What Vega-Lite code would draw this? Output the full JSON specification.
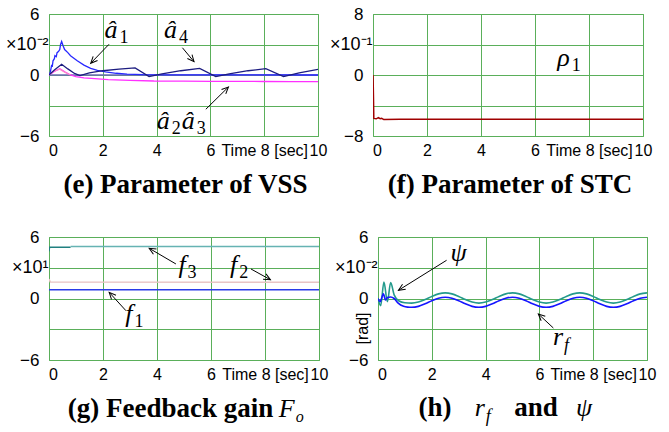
{
  "$schema": "https://vega.github.io/schema/vega-lite/v6.json",
  "background": "white",
  "padding": {"left": 4, "top": 4, "right": 5, "bottom": 5},
  "config": {
    "view": {"stroke": "#5aaf5a", "strokeWidth": 1},
    "axis": {"grid": true, "gridColor": "#5aaf5a", "gridWidth": 1, "gridOpacity": 1, "domain": false, "ticks": false,
      "labelFont": "'Liberation Sans Narrow', 'Liberation Sans', sans-serif", "labelColor": "black", "labelFontSize": 17,
      "titleFont": "'Liberation Sans Narrow', 'Liberation Sans', sans-serif", "titleFontWeight": "normal", "titleColor": "black", "titleFontSize": 16},
    "axisX": {"labelOverlap": false, "labelFontSize": 16},
    "title": {"font": "Liberation Serif", "fontSize": 27, "fontWeight": "bold", "color": "black", "orient": "bottom", "offset": 14}
  },
  "datasets": {
    "e_lines": [
      {"s": "z", "x": 0, "y": 0}, {"s": "z", "x": 10, "y": 0},
      {"s": "a1", "x": 0, "y": 0}, {"s": "a1", "x": 0.05, "y": 0.3}, {"s": "a1", "x": 0.1, "y": 1.0}, {"s": "a1", "x": 0.12, "y": 0.8}, {"s": "a1", "x": 0.15, "y": 1.4}, {"s": "a1", "x": 0.2, "y": 1.6}, {"s": "a1", "x": 0.22, "y": 1.9}, {"s": "a1", "x": 0.27, "y": 1.8}, {"s": "a1", "x": 0.3, "y": 2.2}, {"s": "a1", "x": 0.35, "y": 2.3}, {"s": "a1", "x": 0.4, "y": 2.5}, {"s": "a1", "x": 0.43, "y": 3.0}, {"s": "a1", "x": 0.47, "y": 3.3}, {"s": "a1", "x": 0.52, "y": 2.9}, {"s": "a1", "x": 0.58, "y": 2.5}, {"s": "a1", "x": 0.7, "y": 2.2}, {"s": "a1", "x": 0.8, "y": 1.9}, {"s": "a1", "x": 1.05, "y": 1.4}, {"s": "a1", "x": 1.3, "y": 0.97}, {"s": "a1", "x": 1.55, "y": 0.66}, {"s": "a1", "x": 1.8, "y": 0.46}, {"s": "a1", "x": 2.1, "y": 0.3}, {"s": "a1", "x": 2.5, "y": 0.17}, {"s": "a1", "x": 2.9, "y": 0.08}, {"s": "a1", "x": 3.5, "y": 0.03}, {"s": "a1", "x": 4.5, "y": 0.01}, {"s": "a1", "x": 10, "y": 0},
      {"s": "a2", "x": 0, "y": 0}, {"s": "a2", "x": 0.2, "y": 0.35}, {"s": "a2", "x": 0.4, "y": 0.62}, {"s": "a2", "x": 0.6, "y": 0.3}, {"s": "a2", "x": 0.8, "y": 0.0}, {"s": "a2", "x": 1.0, "y": -0.15}, {"s": "a2", "x": 1.3, "y": -0.28}, {"s": "a2", "x": 1.7, "y": -0.36}, {"s": "a2", "x": 2.2, "y": -0.45}, {"s": "a2", "x": 3.0, "y": -0.52}, {"s": "a2", "x": 3.9, "y": -0.59}, {"s": "a2", "x": 5, "y": -0.6}, {"s": "a2", "x": 6, "y": -0.62}, {"s": "a2", "x": 7, "y": -0.62}, {"s": "a2", "x": 8, "y": -0.64}, {"s": "a2", "x": 9, "y": -0.66}, {"s": "a2", "x": 10, "y": -0.65},
      {"s": "a3", "x": 0, "y": 0}, {"s": "a3", "x": 0.2, "y": 0.4}, {"s": "a3", "x": 0.4, "y": 0.58}, {"s": "a3", "x": 0.6, "y": 0.25}, {"s": "a3", "x": 0.8, "y": 0.0},
      {"s": "a4", "x": 0, "y": 0}, {"s": "a4", "x": 0.2, "y": 0.5}, {"s": "a4", "x": 0.47, "y": 1.05}, {"s": "a4", "x": 0.7, "y": 0.6}, {"s": "a4", "x": 0.95, "y": 0.15}, {"s": "a4", "x": 1.15, "y": -0.05}, {"s": "a4", "x": 1.5, "y": 0.2}, {"s": "a4", "x": 2.0, "y": 0.42}, {"s": "a4", "x": 2.6, "y": 0.57}, {"s": "a4", "x": 3.2, "y": 0.7}, {"s": "a4", "x": 3.72, "y": -0.15}, {"s": "a4", "x": 4.2, "y": 0.12}, {"s": "a4", "x": 4.9, "y": 0.42}, {"s": "a4", "x": 5.6, "y": 0.65}, {"s": "a4", "x": 6.2, "y": -0.15}, {"s": "a4", "x": 6.7, "y": 0.12}, {"s": "a4", "x": 7.4, "y": 0.42}, {"s": "a4", "x": 8.06, "y": 0.62}, {"s": "a4", "x": 8.72, "y": -0.15}, {"s": "a4", "x": 9.3, "y": 0.2}, {"s": "a4", "x": 10, "y": 0.55}
    ],
    "e_arrows": [
      {"x": 1.55, "y": 1.15, "x2": 2.23, "y2": 3.02},
      {"x": 5.39, "y": 1.31, "x2": 4.96, "y2": 2.68},
      {"x": 6.67, "y": -1.18, "x2": 5.83, "y2": -3.37}
    ],
    "e_labels": [
      {"x": 2.55, "y": 3.67, "m": "â", "sub": "1", "subi": ""},
      {"x": 4.76, "y": 3.67, "m": "â", "sub": "4", "subi": ""},
      {"x": 4.49, "y": -5.34, "m": "â", "sub": "2", "subi": ""},
      {"x": 5.42, "y": -5.34, "m": "â", "sub": "3", "subi": ""}
    ],
    "f_lines": [
      {"s": "rho", "x": 0, "y": 0}, {"s": "rho", "x": 0.01, "y": -1.5}, {"s": "rho", "x": 0.02, "y": -3.5}, {"s": "rho", "x": 0.03, "y": -5.7}, {"s": "rho", "x": 0.12, "y": -5.75}, {"s": "rho", "x": 0.2, "y": -5.6}, {"s": "rho", "x": 0.27, "y": -5.72}, {"s": "rho", "x": 0.32, "y": -5.68}, {"s": "rho", "x": 0.4, "y": -5.85}, {"s": "rho", "x": 1, "y": -5.8}, {"s": "rho", "x": 10, "y": -5.8}
    ],
    "f_labels": [
      {"x": 7.29, "y": 1.18, "m": "ρ", "sub": "1", "subi": ""}
    ],
    "g_lines": [
      {"s": "f3a", "x": 0, "y": 4.6}, {"s": "f3a", "x": 0.02, "y": 5.0}, {"s": "f3a", "x": 0.8, "y": 5.0},
      {"s": "f3", "x": 0.8, "y": 5.08}, {"s": "f3", "x": 10, "y": 5.08},
      {"s": "f2", "x": 0, "y": 1.9}, {"s": "f2", "x": 0.05, "y": 1.6}, {"s": "f2", "x": 10, "y": 1.58},
      {"s": "f1", "x": 0, "y": 0.86}, {"s": "f1", "x": 10, "y": 0.86}
    ],
    "g_arrows": [
      {"x": 3.71, "y": 4.9, "x2": 4.7, "y2": 3.37},
      {"x": 8.2, "y": 1.83, "x2": 7.48, "y2": 2.88},
      {"x": 2.23, "y": 0.6, "x2": 2.85, "y2": -1.19}
    ],
    "g_labels": [
      {"x": 5.06, "y": 2.46, "m": "f", "sub": "3", "subi": ""},
      {"x": 6.97, "y": 2.46, "m": "f", "sub": "2", "subi": ""},
      {"x": 3.09, "y": -2.32, "m": "f", "sub": "1", "subi": ""},
      {"x": 9.1, "y": -11.59, "m": "F", "sub": "", "subi": "o"}
    ],
    "g_bold": [
      {"x": 4.5, "y": -11.59, "m": "(g) Feedback gain"}
    ],
    "h_lines": [
      {"s": "psi", "x": 0, "y": 0}, {"s": "psi", "x": 0.1, "y": -0.7}, {"s": "psi", "x": 0.22, "y": 1.6}, {"s": "psi", "x": 0.35, "y": -0.3}, {"s": "psi", "x": 0.47, "y": 1.55}, {"s": "psi", "x": 0.6, "y": 0.35}, {"s": "psi", "x": 0.78, "y": -0.25}, {"s": "psi", "x": 1.0, "y": -0.42}, {"s": "psi", "x": 1.25, "y": -0.45}, {"s": "psi", "x": 1.5, "y": -0.35}, {"s": "psi", "x": 1.75, "y": -0.1}, {"s": "psi", "x": 2, "y": 0.2}, {"s": "psi", "x": 2.25, "y": 0.45}, {"s": "psi", "x": 2.5, "y": 0.55}, {"s": "psi", "x": 2.75, "y": 0.45}, {"s": "psi", "x": 3, "y": 0.2}, {"s": "psi", "x": 3.25, "y": -0.1}, {"s": "psi", "x": 3.5, "y": -0.35}, {"s": "psi", "x": 3.75, "y": -0.45}, {"s": "psi", "x": 4, "y": -0.35}, {"s": "psi", "x": 4.25, "y": -0.1}, {"s": "psi", "x": 4.5, "y": 0.2}, {"s": "psi", "x": 4.75, "y": 0.45}, {"s": "psi", "x": 5, "y": 0.55}, {"s": "psi", "x": 5.25, "y": 0.45}, {"s": "psi", "x": 5.5, "y": 0.2}, {"s": "psi", "x": 5.75, "y": -0.1}, {"s": "psi", "x": 6, "y": -0.35}, {"s": "psi", "x": 6.25, "y": -0.45}, {"s": "psi", "x": 6.5, "y": -0.35}, {"s": "psi", "x": 6.75, "y": -0.1}, {"s": "psi", "x": 7, "y": 0.2}, {"s": "psi", "x": 7.25, "y": 0.45}, {"s": "psi", "x": 7.5, "y": 0.55}, {"s": "psi", "x": 7.75, "y": 0.45}, {"s": "psi", "x": 8, "y": 0.2}, {"s": "psi", "x": 8.25, "y": -0.1}, {"s": "psi", "x": 8.5, "y": -0.35}, {"s": "psi", "x": 8.75, "y": -0.45}, {"s": "psi", "x": 9, "y": -0.35}, {"s": "psi", "x": 9.25, "y": -0.1}, {"s": "psi", "x": 9.5, "y": 0.2}, {"s": "psi", "x": 9.75, "y": 0.45}, {"s": "psi", "x": 10, "y": 0.55},
      {"s": "rf", "x": 0, "y": 0}, {"s": "rf", "x": 0.08, "y": -0.3}, {"s": "rf", "x": 0.15, "y": 0.15}, {"s": "rf", "x": 0.2, "y": 0.45}, {"s": "rf", "x": 0.28, "y": -0.15}, {"s": "rf", "x": 0.35, "y": 0.1}, {"s": "rf", "x": 0.47, "y": 0.15}, {"s": "rf", "x": 0.6, "y": 0.0}, {"s": "rf", "x": 0.75, "y": -0.45}, {"s": "rf", "x": 0.95, "y": -0.76}, {"s": "rf", "x": 1.1, "y": -0.84}, {"s": "rf", "x": 1.25, "y": -0.86}, {"s": "rf", "x": 1.5, "y": -0.77}, {"s": "rf", "x": 1.75, "y": -0.52}, {"s": "rf", "x": 2, "y": -0.22}, {"s": "rf", "x": 2.25, "y": 0.03}, {"s": "rf", "x": 2.5, "y": 0.12}, {"s": "rf", "x": 2.75, "y": 0.03}, {"s": "rf", "x": 3, "y": -0.22}, {"s": "rf", "x": 3.25, "y": -0.52}, {"s": "rf", "x": 3.5, "y": -0.77}, {"s": "rf", "x": 3.75, "y": -0.86}, {"s": "rf", "x": 4, "y": -0.77}, {"s": "rf", "x": 4.25, "y": -0.52}, {"s": "rf", "x": 4.5, "y": -0.22}, {"s": "rf", "x": 4.75, "y": 0.03}, {"s": "rf", "x": 5, "y": 0.12}, {"s": "rf", "x": 5.25, "y": 0.03}, {"s": "rf", "x": 5.5, "y": -0.22}, {"s": "rf", "x": 5.75, "y": -0.52}, {"s": "rf", "x": 6, "y": -0.77}, {"s": "rf", "x": 6.25, "y": -0.86}, {"s": "rf", "x": 6.5, "y": -0.77}, {"s": "rf", "x": 6.75, "y": -0.52}, {"s": "rf", "x": 7, "y": -0.22}, {"s": "rf", "x": 7.25, "y": 0.03}, {"s": "rf", "x": 7.5, "y": 0.12}, {"s": "rf", "x": 7.75, "y": 0.03}, {"s": "rf", "x": 8, "y": -0.22}, {"s": "rf", "x": 8.25, "y": -0.52}, {"s": "rf", "x": 8.5, "y": -0.77}, {"s": "rf", "x": 8.75, "y": -0.86}, {"s": "rf", "x": 9, "y": -0.77}, {"s": "rf", "x": 9.25, "y": -0.52}, {"s": "rf", "x": 9.5, "y": -0.22}, {"s": "rf", "x": 9.75, "y": 0.03}, {"s": "rf", "x": 10, "y": 0.12}
    ],
    "h_arrows": [
      {"x": 0.76, "y": 0.8, "x2": 2.55, "y2": 3.73},
      {"x": 5.96, "y": -1.51, "x2": 6.52, "y2": -2.88}
    ],
    "h_labels": [
      {"x": 3.3, "y": 3.63, "m": "ψ", "sub": "", "subi": ""},
      {"x": 6.88, "y": -4.5, "m": "r", "sub": "", "subi": "f"},
      {"x": 3.97, "y": -11.49, "m": "r", "sub": "", "subi": "f"},
      {"x": 7.96, "y": -11.49, "m": "ψ", "sub": "", "subi": ""}
    ],
    "h_bold": [
      {"x": 2.12, "y": -11.49, "m": "(h)"},
      {"x": 5.87, "y": -11.49, "m": "and"}
    ]
  },
  "resolve": {"scale": {"color": "independent"}},
  "spacing": 223,
  "bounds": "flush",
  "vconcat": [
    {
      "spacing": 55,
      "bounds": "flush",
      "resolve": {"scale": {"color": "independent"}},
      "hconcat": [
        {
          "width": 269, "height": 122,
          "title": {"text": "(e) Parameter of VSS", "dx": 2},
          "encoding": {
            "x": {"field": "x", "type": "quantitative", "scale": {"domain": [0, 10], "nice": false},
              "axis": {"values": [0, 2, 4, 6, 8, 10], "title": null, "labelExpr": "datum.value == 8 ? 'Time 8 [sec]' : datum.label", "labelPadding": 6, "labelFlush": false, "labelOffset": {"condition": {"test": "datum.value == 0", "value": 4}, "value": 0}}},
            "y": {"field": "y", "type": "quantitative", "scale": {"domain": [-6, 6], "nice": false},
              "axis": {"values": [-6, -3, 0, 3, 6], "title": null, "labelExpr": "datum.value == 3 ? '×10⁻²' : datum.value == -3 ? '' : datum.label", "labelPadding": {"condition": {"test": "datum.value == 3", "value": 1}, "value": 10}, "labelFontSize": {"condition": {"test": "datum.value == 3", "value": 18}, "value": 17}}}
          },
          "layer": [
            {"data": {"name": "e_lines"}, "mark": {"type": "line", "strokeWidth": 1.3, "clip": true},
              "encoding": {"color": {"field": "s", "type": "nominal", "scale": {"domain": ["z", "a3", "a2", "a1", "a4"], "range": ["#6a6ab4", "#ff88cc", "#ff30ff", "#2828ff", "#1c1c80"]}, "legend": null}}},
            {"data": {"name": "e_arrows"}, "mark": {"type": "rule", "color": "black", "strokeWidth": 1},
              "encoding": {"x2": {"field": "x2"}, "y2": {"field": "y2"}}},
            {"data": {"name": "e_arrows"}, "transform": [{"calculate": "atan2((datum.x - datum.x2) * 26.9, (datum.y - datum.y2) * 10.17) * 180 / PI", "as": "ang"}],
              "mark": {"type": "point", "shape": "M-0.45,1L0,0L0.45,1", "filled": false, "stroke": "black", "strokeWidth": 1, "size": 180, "opacity": 1},
              "encoding": {"angle": {"field": "ang", "type": "quantitative", "scale": null}}},
            {"data": {"name": "e_labels"}, "mark": {"type": "text", "font": "Liberation Serif", "fontStyle": "italic", "fontSize": 26, "align": "right", "baseline": "alphabetic"},
              "encoding": {"text": {"field": "m"}}},
            {"data": {"name": "e_labels"}, "mark": {"type": "text", "font": "Liberation Serif", "fontSize": 18, "align": "left", "baseline": "alphabetic", "dx": 2, "dy": 5},
              "encoding": {"text": {"field": "sub"}}}
          ]
        },
        {
          "width": 270, "height": 122,
          "title": {"text": "(f) Parameter of STC", "dx": 2},
          "encoding": {
            "x": {"field": "x", "type": "quantitative", "scale": {"domain": [0, 10], "nice": false},
              "axis": {"values": [0, 2, 4, 6, 8, 10], "title": null, "labelExpr": "datum.value == 8 ? 'Time 8 [sec]' : datum.label", "labelPadding": 6, "labelFlush": false, "labelOffset": {"condition": {"test": "datum.value == 0", "value": 4}, "value": 0}}},
            "y": {"field": "y", "type": "quantitative", "scale": {"domain": [-8, 8], "nice": false},
              "axis": {"values": [-8, -4, 0, 4, 8], "title": null, "labelExpr": "datum.value == 4 ? '×10⁻¹' : datum.value == -4 ? '' : datum.label", "labelPadding": {"condition": {"test": "datum.value == 4", "value": 1}, "value": 10}, "labelFontSize": {"condition": {"test": "datum.value == 4", "value": 18}, "value": 17}}}
          },
          "layer": [
            {"data": {"name": "f_lines"}, "mark": {"type": "line", "strokeWidth": 1.5, "clip": true},
              "encoding": {"color": {"field": "s", "type": "nominal", "scale": {"domain": ["rho"], "range": ["#a00000"]}, "legend": null}}},
            {"data": {"name": "f_labels"}, "mark": {"type": "text", "font": "Liberation Serif", "fontStyle": "italic", "fontSize": 26, "align": "right", "baseline": "alphabetic"},
              "encoding": {"text": {"field": "m"}}},
            {"data": {"name": "f_labels"}, "mark": {"type": "text", "font": "Liberation Serif", "fontSize": 18, "align": "left", "baseline": "alphabetic", "dx": 2, "dy": 5},
              "encoding": {"text": {"field": "sub"}}}
          ]
        }
      ]
    },
    {
      "spacing": 59,
      "bounds": "flush",
      "resolve": {"scale": {"color": "independent"}},
      "hconcat": [
        {
          "width": 270, "height": 123,
          "encoding": {
            "x": {"field": "x", "type": "quantitative", "scale": {"domain": [0, 10], "nice": false},
              "axis": {"values": [0, 2, 4, 6, 8, 10], "title": null, "labelExpr": "datum.value == 8 ? 'Time 8 [sec]' : datum.label", "labelPadding": 6, "labelFlush": false, "labelOffset": {"condition": {"test": "datum.value == 0", "value": 4}, "value": 0}}},
            "y": {"field": "y", "type": "quantitative", "scale": {"domain": [-6, 6], "nice": false},
              "axis": {"values": [-6, -3, 0, 3, 6], "title": null, "labelExpr": "datum.value == 3 ? '×10¹' : datum.value == -3 ? '' : datum.label", "labelPadding": {"condition": {"test": "datum.value == 3", "value": 1}, "value": 10}, "labelFontSize": {"condition": {"test": "datum.value == 3", "value": 18}, "value": 17}}}
          },
          "layer": [
            {"data": {"name": "g_lines"}, "mark": {"type": "line", "strokeWidth": 1.5, "clip": true},
              "encoding": {"color": {"field": "s", "type": "nominal", "scale": {"domain": ["f2", "f1", "f3a", "f3"], "range": ["#e8c4c4", "#2a3ae8", "#208080", "#66b3b3"]}, "legend": null}}},
            {"data": {"name": "g_arrows"}, "mark": {"type": "rule", "color": "black", "strokeWidth": 1},
              "encoding": {"x2": {"field": "x2"}, "y2": {"field": "y2"}}},
            {"data": {"name": "g_arrows"}, "transform": [{"calculate": "atan2((datum.x - datum.x2) * 27, (datum.y - datum.y2) * 10.25) * 180 / PI", "as": "ang"}],
              "mark": {"type": "point", "shape": "M-0.45,1L0,0L0.45,1", "filled": false, "stroke": "black", "strokeWidth": 1, "size": 180, "opacity": 1},
              "encoding": {"angle": {"field": "ang", "type": "quantitative", "scale": null}}},
            {"data": {"name": "g_labels"}, "mark": {"type": "text", "font": "Liberation Serif", "fontStyle": "italic", "fontSize": 26, "align": "right", "baseline": "alphabetic"},
              "encoding": {"text": {"field": "m"}}},
            {"data": {"name": "g_labels"}, "mark": {"type": "text", "font": "Liberation Serif", "fontSize": 18, "align": "left", "baseline": "alphabetic", "dx": 2, "dy": 5},
              "encoding": {"text": {"field": "sub"}}},
            {"data": {"name": "g_labels"}, "mark": {"type": "text", "font": "Liberation Serif", "fontStyle": "italic", "fontSize": 16, "align": "left", "baseline": "alphabetic", "dx": 1, "dy": 5},
              "encoding": {"text": {"field": "subi"}}},
            {"data": {"name": "g_bold"}, "mark": {"type": "text", "font": "Liberation Serif", "fontWeight": "bold", "fontSize": 27, "align": "center", "baseline": "alphabetic"},
              "encoding": {"text": {"field": "m"}}}
          ]
        },
        {
          "width": 269, "height": 123,
          "encoding": {
            "x": {"field": "x", "type": "quantitative", "scale": {"domain": [0, 10], "nice": false},
              "axis": {"values": [0, 2, 4, 6, 8, 10], "title": null, "labelExpr": "datum.value == 8 ? 'Time 8 [sec]' : datum.label", "labelPadding": 6, "labelFlush": false, "labelOffset": {"condition": {"test": "datum.value == 0", "value": 4}, "value": 0}}},
            "y": {"field": "y", "type": "quantitative", "scale": {"domain": [-6, 6], "nice": false},
              "axis": {"values": [-6, -3, 0, 3, 6], "title": "[rad]", "titleX": -16, "titleY": 91, "titleAlign": "center", "titleBaseline": "middle", "labelExpr": "datum.value == 3 ? '×10⁻²' : datum.value == -3 ? '' : datum.label", "labelPadding": {"condition": {"test": "datum.value == 3", "value": 1}, "value": 10}, "labelFontSize": {"condition": {"test": "datum.value == 3", "value": 18}, "value": 17}}}
          },
          "layer": [
            {"data": {"name": "h_lines"}, "mark": {"type": "line", "strokeWidth": 1.6, "interpolate": "monotone", "clip": true},
              "encoding": {"color": {"field": "s", "type": "nominal", "scale": {"domain": ["psi", "rf"], "range": ["#239a8c", "#1515ff"]}, "legend": null}}},
            {"data": {"name": "h_arrows"}, "mark": {"type": "rule", "color": "black", "strokeWidth": 1},
              "encoding": {"x2": {"field": "x2"}, "y2": {"field": "y2"}}},
            {"data": {"name": "h_arrows"}, "transform": [{"calculate": "atan2((datum.x - datum.x2) * 26.9, (datum.y - datum.y2) * 10.25) * 180 / PI", "as": "ang"}],
              "mark": {"type": "point", "shape": "M-0.45,1L0,0L0.45,1", "filled": false, "stroke": "black", "strokeWidth": 1, "size": 180, "opacity": 1},
              "encoding": {"angle": {"field": "ang", "type": "quantitative", "scale": null}}},
            {"data": {"name": "h_labels"}, "mark": {"type": "text", "font": "Liberation Serif", "fontStyle": "italic", "fontSize": 26, "align": "right", "baseline": "alphabetic"},
              "encoding": {"text": {"field": "m"}}},
            {"data": {"name": "h_labels"}, "mark": {"type": "text", "font": "Liberation Serif", "fontStyle": "italic", "fontSize": 18, "align": "left", "baseline": "alphabetic", "dx": 1, "dy": 6},
              "encoding": {"text": {"field": "subi"}}},
            {"data": {"name": "h_bold"}, "mark": {"type": "text", "font": "Liberation Serif", "fontWeight": "bold", "fontSize": 27, "align": "center", "baseline": "alphabetic"},
              "encoding": {"text": {"field": "m"}}}
          ]
        }
      ]
    }
  ]
}
